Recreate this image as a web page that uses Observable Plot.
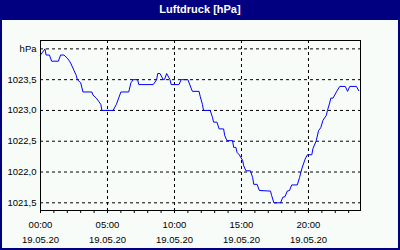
<!DOCTYPE html>
<html><head><meta charset="utf-8">
<script src="https://cdn.jsdelivr.net/npm/d3@7"></script>
<script src="https://cdn.jsdelivr.net/npm/@observablehq/plot@0.6"></script>
<style>
html,body{margin:0;padding:0;background:#f8fcf8;}
#wrap{position:relative;width:400px;height:250px;overflow:hidden;background:#f8fcf8;font-family:"Liberation Sans",Arial,sans-serif;}
#title{height:20px;background:#000080;color:#fff;font-weight:bold;font-size:11px;line-height:18px;text-align:center;}
#chart svg{display:block;}
#border{position:absolute;left:0;top:0;width:400px;height:250px;box-sizing:border-box;border:2px solid #000080;pointer-events:none;}
</style></head><body>
<div id="wrap"><div id="title">Luftdruck [hPa]</div><div id="chart"></div><div id="border"></div></div>
<script>
// time of day in minutes since 00:00
const minutes = [0,20,25,40,50,80,90,105,120,130,135,150,160,165,180,190,230,235,250,260,270,275,325,340,350,360,395,405,415,435,440,505,520,525,535,550,555,565,580,585,620,630,660,680,710,715,725,730,760,770,775,790,800,820,825,835,860,865,875,880,890,905,910,920,940,950,955,970,980,1030,1035,1045,1075,1085,1095,1105,1115,1125,1150,1160,1170,1185,1195,1215,1220,1235,1245,1255,1265,1280,1285,1295,1300,1310,1325,1340,1365,1375,1385,1415,1425];
// air pressure in hPa
const pressure = [1023.9,1024.0,1023.9,1023.9,1023.8,1023.8,1023.9,1023.9,1023.85,1023.8,1023.77,1023.65,1023.57,1023.5,1023.45,1023.3,1023.3,1023.25,1023.2,1023.15,1023.1,1023.0,1023.0,1023.1,1023.2,1023.3,1023.3,1023.45,1023.5,1023.5,1023.42,1023.42,1023.5,1023.6,1023.6,1023.5,1023.5,1023.6,1023.5,1023.42,1023.42,1023.5,1023.5,1023.31,1023.31,1023.23,1023.1,1023.0,1023.0,1022.89,1022.81,1022.81,1022.7,1022.7,1022.59,1022.51,1022.51,1022.4,1022.4,1022.32,1022.28,1022.19,1022.1,1022.02,1022.02,1021.91,1021.8,1021.8,1021.7,1021.69,1021.62,1021.5,1021.5,1021.59,1021.6,1021.69,1021.7,1021.79,1021.79,1021.91,1022.05,1022.21,1022.28,1022.28,1022.38,1022.51,1022.67,1022.72,1022.84,1022.92,1023.0,1023.12,1023.2,1023.2,1023.3,1023.39,1023.39,1023.31,1023.39,1023.39,1023.32];
const yTicks = [1021.5,1022.0,1022.5,1023.0,1023.5,1024.0];
const yUnitLabel = "hPa";
const xLabelTicks = [0,300,600,900,1200];
const xHourTicks = [0,60,120,180,240,300,360,420,480,540,600,660,720,780,840,900,960,1020,1080,1140,1200,1260,1320,1380];
const dateLabel = "19.05.20";

const data = minutes.map((m, i) => ({m, p: pressure[i]}));
const fmtY = v => v === 1024 ? yUnitLabel : v.toFixed(1).replace(".", ",");
const fmtX = m => `${String(m / 60).padStart(2, "0")}:00\n${dateLabel}`;

const chart = Plot.plot({
  width: 400, height: 230,
  marginTop: 20, marginBottom: 40, marginLeft: 40, marginRight: 40,
  style: {background: "#f8fcf8", fontFamily: "Liberation Sans, Arial, sans-serif", fontSize: "9.5px", color: "#000"},
  x: {domain: [0, 1433], label: null},
  y: {domain: [1021.375, 1024.136], label: null},
  marks: [
    Plot.gridY(yTicks, {stroke: "#000", strokeOpacity: 1, strokeDasharray: "3,3"}),
    Plot.gridX([300, 600, 900, 1200], {stroke: "#000", strokeOpacity: 1, strokeDasharray: "3,3"}),
    Plot.axisY(yTicks, {tickSize: 0, tickPadding: 4, tickFormat: fmtY}),
    Plot.axisX(xHourTicks, {tickSize: 3, tickFormat: () => ""}),
    Plot.axisX(xLabelTicks, {tickSize: 3, tickPadding: 4, lineHeight: 1.55, tickFormat: fmtX}),
    Plot.line(data, {x: "m", y: "p", stroke: "#0000ff", strokeWidth: 1}),
    Plot.frame({stroke: "#000"})
  ]
});
document.getElementById("chart").appendChild(chart);
</script>
</body></html>
